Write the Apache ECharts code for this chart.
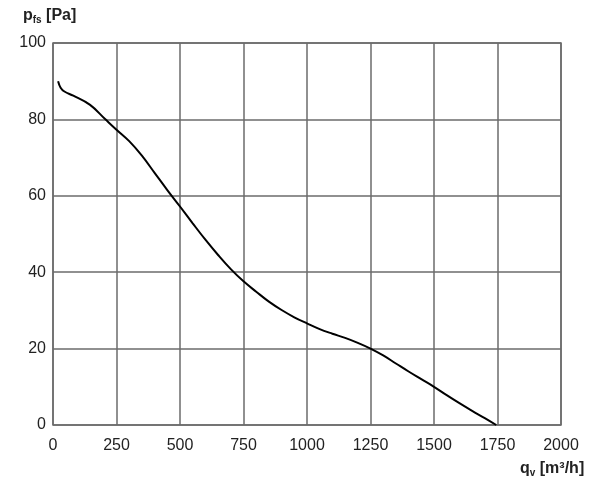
<!DOCTYPE html>
<html>
<head>
<meta charset="utf-8">
<script src="https://cdn.jsdelivr.net/npm/echarts@6/dist/echarts.min.js"></script>
<style>
  html, body { margin: 0; padding: 0; background: #fff; }
  #chart { width: 600px; height: 490px; }
</style>
</head>
<body>
<div id="chart"></div>
<script>
// curve: airflow q_v [m3/h] vs pressure p_fs [Pa]
var flow = [20, 30, 45, 80, 146, 205, 250, 300, 350, 400, 450, 500, 550, 600, 650, 700, 750, 800, 850, 900, 950, 1000, 1050, 1100, 1150, 1200, 1250, 1300, 1350, 1400, 1450, 1500, 1550, 1600, 1650, 1700, 1745];
var pressure = [90, 88.3, 87.3, 86.2, 83.8, 80.1, 77.3, 74.3, 70.5, 66, 61.5, 57.2, 52.8, 48.5, 44.5, 40.8, 37.6, 34.9, 32.3, 30.1, 28.2, 26.6, 25.1, 23.9, 22.8, 21.5, 20, 18.2, 16.1, 14, 12, 10, 7.8, 5.7, 3.7, 1.8, 0];

var pts = flow.map(function (q, i) { return [q, pressure[i]]; });

var gridColor = '#6b6b6b';
var font = 'Liberation Sans, Arial, sans-serif';

var chart = echarts.init(document.getElementById('chart'));
chart.setOption({
    animation: false,
    grid: { left: 53, top: 43, right: 39, bottom: 65, show: true, borderColor: gridColor, borderWidth: 1.5 },
    xAxis: {
        type: 'value', min: 0, max: 2000, interval: 250,
        axisLine: { show: false },
        axisTick: { show: false },
        splitLine: { lineStyle: { color: gridColor, width: 1.5 } },
        axisLabel: { color: '#222', fontSize: 16, fontFamily: font, margin: 13, formatter: function (v) { return String(v); } },
        name: '{b|q}{s|v}{b| [m³/h]}',
        nameLocation: 'end',
        nameGap: 0,
        nameTextStyle: {
            align: 'left', verticalAlign: 'top', padding: [35, 0, 0, -41],
            rich: {
                b: { fontSize: 16, fontWeight: 'bold', color: '#222', fontFamily: font },
                s: { fontSize: 10, fontWeight: 'bold', color: '#222', fontFamily: font, padding: [8, 0, 0, 0] }
            }
        }
    },
    yAxis: {
        type: 'value', min: 0, max: 100, interval: 20,
        axisLine: { show: false },
        axisTick: { show: false },
        splitLine: { lineStyle: { color: gridColor, width: 1.5 } },
        axisLabel: { color: '#222', fontSize: 16, fontFamily: font, margin: 7 },
        name: '{b|p}{s|fs}{b| [Pa]}',
        nameLocation: 'end',
        nameGap: 18,
        nameTextStyle: {
            align: 'left', padding: [0, 0, 0, -30],
            rich: {
                b: { fontSize: 16, fontWeight: 'bold', color: '#222', fontFamily: font },
                s: { fontSize: 10, fontWeight: 'bold', color: '#222', fontFamily: font, padding: [8, 0, 0, 0] }
            }
        }
    },
    series: [{
        type: 'line',
        data: pts,
        smooth: 0.4,
        showSymbol: false,
        lineStyle: { color: '#000', width: 2 }
    }]
});
</script>
</body>
</html>
